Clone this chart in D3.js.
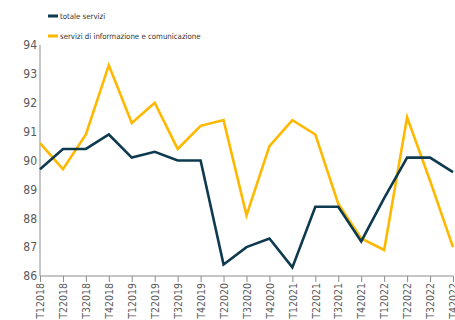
<!DOCTYPE html>
<html>
<head>
<meta charset="utf-8">
<script src="https://cdn.jsdelivr.net/npm/d3@7"></script>
<style>
  body { margin: 0; background: #fff; }
  svg { display: block; }
</style>
</head>
<body>
<svg id="chart" width="455" height="320"></svg>
<script>
// data (T12020 is not in the series)
var quarters = ["T12018","T22018","T32018","T42018","T12019","T22019","T32019","T42019",
                "T22020","T32020","T42020","T12021","T22021","T32021","T42021",
                "T12022","T22022","T32022","T42022"];
var totaleServizi = [89.7, 90.4, 90.4, 90.9, 90.1, 90.3, 90.0, 90.0,
                     86.4, 87.0, 87.3, 86.3, 88.4, 88.4, 87.2,
                     88.7, 90.1, 90.1, 89.6];
var infoComunicazione = [90.6, 89.7, 90.9, 93.3, 91.3, 92.0, 90.4, 91.2,
                         91.4, 88.1, 90.5, 91.4, 90.9, 88.5, 87.3,
                         86.9, 91.5, 89.3, 87.0];
var yTicks = [86, 87, 88, 89, 90, 91, 92, 93, 94];
var seriesNames = ["totale servizi", "servizi di informazione e comunicazione"];

var colorDark = '#0d3a4e';
var colorYellow = '#ffb800';
var axisColor = '#8c8c8c';
var textColor = '#595959';
var fontFam = '"DejaVu Sans Condensed", "DejaVu Sans", sans-serif';

var svg = d3.select('#chart');
// plot area edges
var plotL = 40, plotR = 453, plotT = 45, plotB = 276;

var x = d3.scalePoint().domain(quarters).range([plotL, plotR]);
var y = d3.scaleLinear().domain([86, 94]).range([plotB, plotT]);

// y axis
var yAxis = svg.append('g')
    .attr('transform', 'translate(' + plotL + ',0)')
    .call(d3.axisLeft(y).tickValues(yTicks).tickSize(0).tickPadding(3).tickFormat(d3.format('d')));
yAxis.select('.domain').attr('stroke', axisColor).attr('d', 'M0,' + plotT + 'V' + plotB);
yAxis.selectAll('text')
    .attr('fill', textColor)
    .style('font-family', fontFam)
    .style('font-size', '12px');

// x axis
var xAxis = svg.append('g')
    .attr('transform', 'translate(0,' + plotB + ')')
    .call(d3.axisBottom(x).tickSize(6).tickSizeOuter(0));
xAxis.select('.domain').attr('stroke', axisColor).attr('d', 'M' + plotL + ',0H' + plotR);
xAxis.selectAll('line').attr('stroke', axisColor);
xAxis.selectAll('text')
    .attr('fill', textColor)
    .style('font-family', fontFam)
    .style('font-size', '10.5px')
    .attr('text-anchor', 'end')
    .attr('transform', 'rotate(-90)')
    .attr('x', -7)
    .attr('y', 0)
    .attr('dy', '0.35em');

// lines
var line = d3.line()
    .x(function(d, i) { return x(quarters[i]); })
    .y(function(d) { return y(d); });

svg.append('path')
    .datum(infoComunicazione)
    .attr('fill', 'none')
    .attr('stroke', colorYellow)
    .attr('stroke-width', 2.6)
    .attr('d', line);

svg.append('path')
    .datum(totaleServizi)
    .attr('fill', 'none')
    .attr('stroke', colorDark)
    .attr('stroke-width', 2.6)
    .attr('d', line);

// legend
var legendColors = [colorDark, colorYellow];
var legend = svg.append('g');
seriesNames.forEach(function(name, i) {
    var ly = 16 + i * 20;
    legend.append('rect')
        .attr('x', 48).attr('y', ly - 1.5)
        .attr('width', 10).attr('height', 3)
        .attr('fill', legendColors[i]);
    legend.append('text')
        .attr('x', 60).attr('y', ly)
        .attr('dy', '0.35em')
        .attr('fill', '#333')
        .style('font-family', fontFam)
        .style('font-size', '7.8px')
        .text(name);
});
</script>
</body>
</html>
